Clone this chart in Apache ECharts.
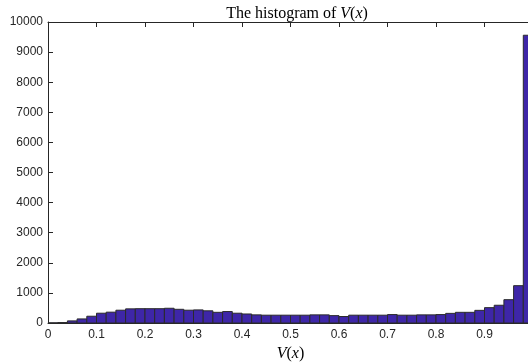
<!DOCTYPE html>
<html>
<head>
<meta charset="utf-8">
<script src="https://cdn.jsdelivr.net/npm/echarts@6/dist/echarts.min.js"></script>
<style>
  html, body { margin: 0; padding: 0; background: #fff; }
  #chart { width: 528px; height: 362px; }
</style>
</head>
<body>
<div id="chart"></div>
<script>
// histogram of V(x): 50 bins of width 0.02 on [0, 1]
const binWidth = 0.02
const counts = [
  5, 15, 70, 135, 225, 325, 360, 425, 470, 475,
  475, 475, 490, 455, 425, 435, 405, 355, 380, 325,
  300, 270, 260, 260, 260, 260, 260, 270, 270, 245,
  215, 260, 260, 260, 260, 280, 260, 260, 270, 270,
  280, 320, 355, 355, 420, 510, 590, 775, 1240, 9560
]
const xTicks = [0, 0.1, 0.2, 0.3, 0.4, 0.5, 0.6, 0.7, 0.8, 0.9, 1]
const yTicks = [0, 1000, 2000, 3000, 4000, 5000, 6000, 7000, 8000, 9000, 10000]

const axisColor = '#262626'
const labelFont = { fontFamily: 'Liberation Sans', fontSize: 12, color: axisColor }
const mathRich = (size) => ({
  n: { fontFamily: 'Liberation Serif', fontSize: size, fontWeight: 'normal', color: '#000' },
  i: { fontFamily: 'Liberation Serif', fontSize: size, fontWeight: 'normal', fontStyle: 'italic', color: '#000' }
})

const bins = counts.map((c, i) => [i * binWidth, (i + 1) * binWidth, c])

const chart = echarts.init(document.getElementById('chart'))

const option = {
  animation: false,
  title: {
    text: '{n|The histogram of }{i|V}{n|(}{i|x}{n|)}',
    left: 292,
    textAlign: 'center',
    top: 1,
    textStyle: { fontWeight: 'normal', rich: mathRich(16) }
  },
  grid: { left: 48, top: 22, width: 485, height: 301, outerBoundsMode: 'none', containLabel: false },
  xAxis: [
    {
      type: 'value',
      min: xTicks[0],
      max: xTicks[xTicks.length - 1],
      interval: 0.1,
      name: '{i|V}{n|(}{i|x}{n|)}',
      nameLocation: 'middle',
      nameGap: 19,
      nameTextStyle: { rich: mathRich(16) },
      axisLine: { show: true, lineStyle: { color: axisColor, width: 1 } },
      axisTick: { show: true, inside: true, length: 5, lineStyle: { color: axisColor } },
      axisLabel: { ...labelFont, margin: 6, formatter: (v) => String(Math.round(v * 10) / 10) },
      splitLine: { show: false }
    },
    {
      type: 'value',
      position: 'top',
      min: xTicks[0],
      max: xTicks[xTicks.length - 1],
      interval: 0.1,
      axisLine: { show: true, lineStyle: { color: axisColor, width: 1 } },
      axisTick: { show: true, inside: true, length: 5, lineStyle: { color: axisColor } },
      axisLabel: { show: false },
      splitLine: { show: false }
    }
  ],
  yAxis: {
    type: 'value',
    min: yTicks[0],
    max: yTicks[yTicks.length - 1],
    interval: 1000,
    axisLine: { show: true, lineStyle: { color: axisColor, width: 1 } },
    axisTick: { show: true, inside: true, length: 5, lineStyle: { color: axisColor } },
    axisLabel: { ...labelFont, margin: 5, formatter: (v) => String(v) },
    splitLine: { show: false }
  },
  series: [
    {
      type: 'custom',
      xAxisIndex: 0,
      encode: { x: [0, 1], y: 2 },
      data: bins,
      renderItem: (params, api) => {
        const p0 = api.coord([api.value(0), api.value(2)])
        const p1 = api.coord([api.value(1), 0])
        return {
          type: 'rect',
          shape: { x: p0[0], y: p0[1], width: p1[0] - p0[0], height: p1[1] - p0[1] },
          style: { fill: '#3e26a8', stroke: '#2b2b2b', lineWidth: 1 }
        }
      }
    }
  ]
}

chart.setOption(option)
</script>
</body>
</html>
